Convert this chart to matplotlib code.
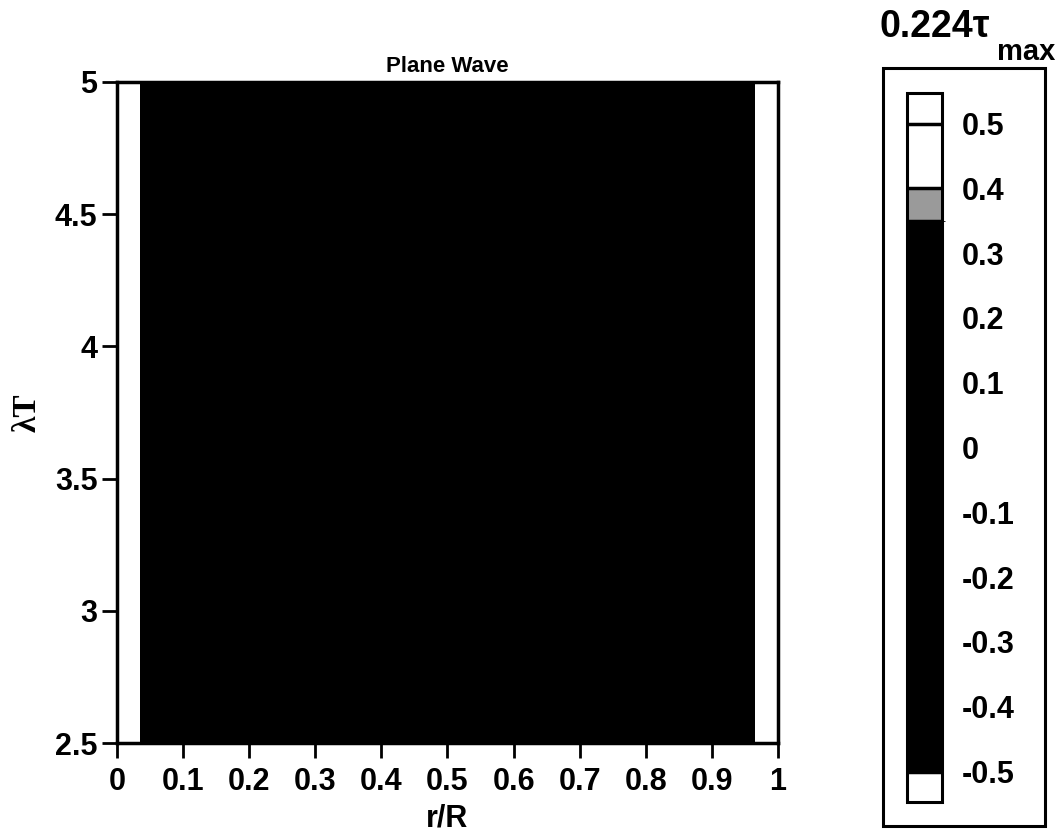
import matplotlib
matplotlib.use("Agg")
import numpy as np
import matplotlib.pyplot as plt
from matplotlib.colors import ListedColormap, BoundaryNorm
from matplotlib.patches import Rectangle

plt.rcParams['font.family'] = ['Liberation Sans', 'DejaVu Sans']
plt.rcParams['font.weight'] = 'bold'

# radial bands (r/R) and the contour value in each band
r_edges = [0.0, 0.035, 0.965, 1.0]
lamT_edges = [2.5, 5.0]
band_values = [0.45, 0.0, 0.45]

# contour levels and their fill colours
levels = [-0.5, 0.35, 0.40, 0.5]
level_colors = ['black', '#9a9a9a', 'white']

x_ticks = [0, 0.1, 0.2, 0.3, 0.4, 0.5, 0.6, 0.7, 0.8, 0.9, 1]
x_labels = ['0', '0.1', '0.2', '0.3', '0.4', '0.5', '0.6', '0.7', '0.8', '0.9', '1']
y_ticks = [2.5, 3, 3.5, 4, 4.5, 5]
y_labels = ['2.5', '3', '3.5', '4', '4.5', '5']
cb_ticks = [0.5, 0.4, 0.3, 0.2, 0.1, 0, -0.1, -0.2, -0.3, -0.4, -0.5]
cb_labels = ['0.5', '0.4', '0.3', '0.2', '0.1', '0', '-0.1', '-0.2', '-0.3', '-0.4', '-0.5']

cmap = ListedColormap(level_colors)
cmap.set_under('white')
cmap.set_over('white')
norm = BoundaryNorm(levels, cmap.N)

fig = plt.figure(figsize=(10.56, 8.34), dpi=100)
ax = fig.add_axes([0.1108, 0.1091, 0.6259, 0.7926])

Z = np.array([band_values])
mesh = ax.pcolormesh(r_edges, lamT_edges, Z, cmap=cmap, norm=norm)

ax.set_xlim(0, 1)
ax.set_ylim(2.5, 5)
ax.set_xticks(x_ticks)
ax.set_xticklabels(x_labels)
ax.set_yticks(y_ticks)
ax.set_yticklabels(y_labels)
ax.tick_params(direction='out', length=11, width=2, labelsize=22)
ax.tick_params(axis='x', pad=6)
ax.tick_params(axis='y', pad=3)
for sp in ax.spines.values():
    sp.set_linewidth(2.5)

ax.set_title('Plane Wave', fontsize=16, fontweight='bold', pad=7,
             family=['Liberation Sans Narrow', 'DejaVu Sans Condensed', 'Liberation Sans'])
ax.set_xlabel('r/R', fontsize=22, fontweight='bold', labelpad=5)
ax.set_ylabel('λT', fontsize=24, fontweight='bold', labelpad=9,
              family=['Liberation Serif', 'DejaVu Serif'])

# colorbar inside a framed box
fig.patches.append(Rectangle((0.836, 0.0096), 0.1534, 0.9089, transform=fig.transFigure,
                             fill=False, edgecolor='black', linewidth=2.2))
cax = fig.add_axes([0.8589, 0.0384, 0.0331, 0.850])
cb = fig.colorbar(mesh, cax=cax, extend='both', extendrect=True, extendfrac=0.047,
                  drawedges=True, ticks=cb_ticks, spacing='proportional')
cb.set_ticklabels(cb_labels)
cb.outline.set_linewidth(2.2)
cb.dividers.set_linewidth(2.5)
cax.tick_params(length=0, pad=14, labelsize=22)

fig.text(0.833, 0.9556, '0.224τ', fontsize=27, fontweight='bold', ha='left', va='baseline')
fig.text(0.944, 0.928, 'max', fontsize=21, fontweight='bold', ha='left', va='baseline')

fig.savefig('out.png', dpi=100)
